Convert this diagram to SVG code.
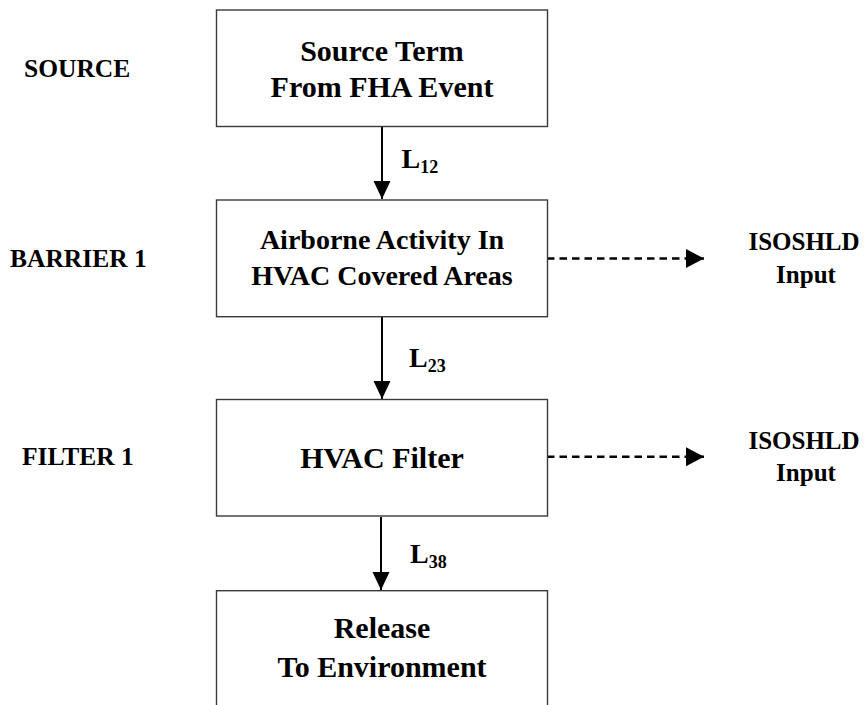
<svg xmlns="http://www.w3.org/2000/svg" width="867" height="705" viewBox="0 0 867 705">
<style>
text{font-family:"Liberation Serif","Times New Roman",serif;font-weight:bold;fill:#000}
.box{fill:#fff;stroke:#3a3a3a;stroke-width:1.4}
.t30{font-size:30px;text-anchor:middle}
.t28{font-size:28px;text-anchor:middle}
.side{font-size:25.5px}
.out{font-size:25px;text-anchor:middle}
.lbl{font-size:28px}
.sub{font-size:18px}
.solid{stroke:#000;stroke-width:2;fill:none}
.dash{stroke:#000;stroke-width:2.6;fill:none;stroke-dasharray:7.5,5}
</style>
<defs>
<marker id="ah" markerWidth="18" markerHeight="18" viewBox="0 0 18 18" refX="18" refY="9" orient="auto" markerUnits="userSpaceOnUse">
<path d="M0,0.5 L18,9 L0,17.5 Z" fill="#000"/>
</marker>
<marker id="ahd" markerWidth="18" markerHeight="20" viewBox="0 0 18 20" refX="18" refY="10" orient="auto" markerUnits="userSpaceOnUse">
<path d="M0,0.5 L18,10 L0,19.5 Z" fill="#000"/>
</marker>
</defs>
<rect width="867" height="705" fill="#fff"/>
<g id="side-labels">
<text class="side" x="24" y="77">SOURCE</text>
<text class="side" x="10" y="267">BARRIER 1</text>
<text class="side" x="22" y="465">FILTER 1</text>
</g>
<g id="connectors">
<line class="solid" x1="382" y1="127" x2="382" y2="199" marker-end="url(#ah)"/>
<line class="solid" x1="382" y1="317" x2="382" y2="399" marker-end="url(#ah)"/>
<line class="solid" x1="381" y1="517" x2="381" y2="590" marker-end="url(#ah)"/>
<line class="dash" x1="547" y1="258.5" x2="704" y2="258.5" marker-end="url(#ahd)"/>
<line class="dash" x1="547" y1="456.7" x2="704" y2="456.7" marker-end="url(#ahd)"/>
<text class="lbl" x="401.5" y="168">L<tspan class="sub" dy="4.5">12</tspan></text>
<text class="lbl" x="409" y="367">L<tspan class="sub" dy="4.5">23</tspan></text>
<text class="lbl" x="410" y="563">L<tspan class="sub" dy="4.5">38</tspan></text>
</g>
<g id="source">
<rect class="box" x="216.5" y="10" width="331" height="116.5"/>
<text class="t30" x="382" y="60.5">Source Term</text>
<text class="t30" x="382" y="96.7">From FHA Event</text>
</g>
<g id="barrier1">
<rect class="box" x="216.5" y="200" width="331" height="116.7"/>
<text class="t28" x="382" y="249">Airborne Activity In</text>
<text class="t28" x="382" y="285">HVAC Covered Areas</text>
</g>
<g id="filter1">
<rect class="box" x="216.5" y="399.5" width="331" height="116.5"/>
<text class="t30" x="382" y="468.3">HVAC Filter</text>
</g>
<g id="release">
<rect class="box" x="216.5" y="590.7" width="331" height="140"/>
<text class="t30" x="382" y="638.3">Release</text>
<text class="t30" x="382" y="676.7">To Environment</text>
</g>
<g id="isoshld1">
<text class="out" x="804" y="250">ISOSHLD</text>
<text class="out" x="806" y="282.7">Input</text>
</g>
<g id="isoshld2">
<text class="out" x="804" y="448.5">ISOSHLD</text>
<text class="out" x="806" y="481">Input</text>
</g>
</svg>
